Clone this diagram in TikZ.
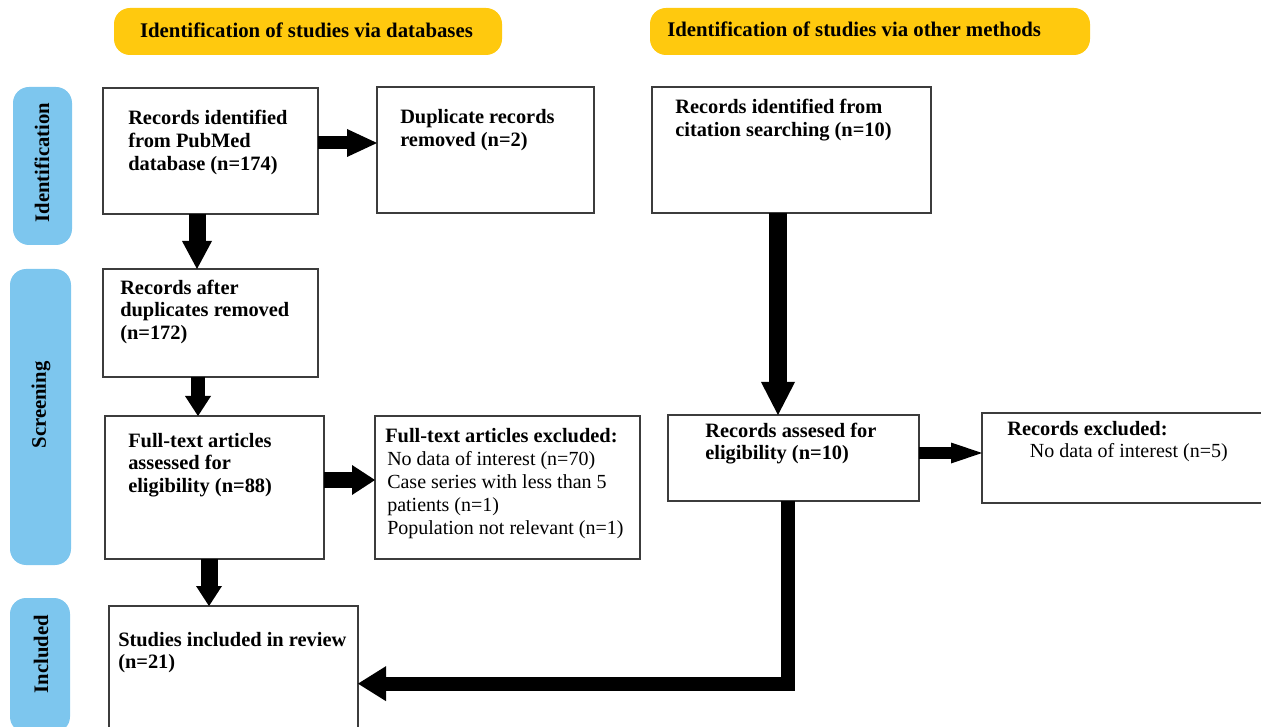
\documentclass[tikz,border=0pt]{standalone}
\usepackage{fontspec}
\setmainfont{Liberation Serif}
\usetikzlibrary{arrows.meta,calc,positioning}
\definecolor{bannergold}{RGB}{255,201,14}
\definecolor{sideblue}{RGB}{125,198,238}
\definecolor{boxline}{RGB}{60,60,60}
\tikzset{
  box/.style={draw=boxline, line width=1.1pt, fill=white, rectangle, anchor=north west, inner sep=0pt, outer sep=0pt},
  banner/.style={fill=bannergold, rectangle, rounded corners=12pt, anchor=north west, inner sep=0pt, outer sep=0pt},
  sidebar/.style={fill=sideblue, rectangle, rounded corners=12pt, anchor=north west, inner sep=0pt, outer sep=0pt},
  txt/.style={font=\fontsize{15.3}{17.1}\selectfont\bfseries, align=left, inner sep=0pt, anchor=base west},
  rtxt/.style={font=\fontsize{15}{17.1}\selectfont, align=left, inner sep=0pt, anchor=base west},
  btxt/.style={font=\fontsize{15.6}{18}\selectfont\bfseries, inner sep=0pt},
  stxt/.style={font=\fontsize{15.5}{18}\selectfont\bfseries, inner sep=0pt, rotate=90},
  blk/.style n args={3}{draw=black, line width=#1, line join=miter, line cap=butt,
    -{Triangle[width=#2, length=#3, line width=0pt]}},
}
\begin{document}
\begin{tikzpicture}[x=0.75pt, y=-0.75pt]
\useasboundingbox (0,0) rectangle (1261,727);
% banners
\node[banner, minimum width=291pt, minimum height=35.25pt] (ban1) at (114,8) {};
\node[banner, minimum width=330pt, minimum height=35.25pt] (ban2) at (650,8) {};
\node[btxt] (ban1t) at (306.5,30) {Identification of studies via databases};
\node[btxt, anchor=west] (ban2t) at (667,29) {Identification of studies via other methods};
% side bars
\node[sidebar, minimum width=44.25pt, minimum height=118.5pt] (sb1) at (13,87) {};
\node[sidebar, minimum width=45.75pt, minimum height=222pt] (sb2) at (10,269) {};
\node[sidebar, minimum width=45pt, minimum height=101pt] (sb3) at (10,598) {};
\node[stxt] (sb1t) at (42,162.5) {Identification};
\node[stxt] (sb2t) at (41,405) {Screening};
\node[stxt] (sb3t) at (41,654) {Included};
% boxes
\node[box, minimum width=161.25pt, minimum height=94.5pt] (A) at (103,88) {};
\node[box, minimum width=162.75pt, minimum height=94.5pt] (B) at (377,87) {};
\node[box, minimum width=209.25pt, minimum height=94.5pt] (C) at (652,87) {};
\node[box, minimum width=161.25pt, minimum height=81pt] (D) at (103,269) {};
\node[box, minimum width=164.25pt, minimum height=107.25pt] (E) at (105,416) {};
\node[box, minimum width=198.75pt, minimum height=107.25pt] (F) at (375,416) {};
\node[box, minimum width=188.25pt, minimum height=64.5pt] (G) at (668,415) {};
\node[box, minimum width=211.5pt, minimum height=67.5pt] (H) at (982,413) {};
\node[box, minimum width=186.75pt, minimum height=94pt] (I) at (109,606) {};
% texts (anchor = baseline of the last line)
\node[txt] (At) at ($(A.north west)+(25,82.6)$) {Records identified\\from PubMed\\database (n=174)};
\node[txt] (Bt) at ($(B.north west)+(23,59.8)$) {Duplicate records\\removed (n=2)};
\node[txt] (Ct) at ($(C.north west)+(23,49.8)$) {Records identified from\\citation searching (n=10)};
\node[txt] (Dt) at ($(D.north west)+(17,70.6)$) {Records after\\duplicates removed\\(n=172)};
\node[txt] (Et) at ($(E.north west)+(23,76.6)$) {Full-text articles\\assessed for\\eligibility (n=88)};
\node[rtxt] (Ft) at ($(F.north west)+(10,118)$) {\textbf{\fontsize{15.3}{17.1}\selectfont Full-text articles excluded:}\\
  \hspace*{1.5pt}No data of interest (n=70)\\
  \hspace*{1.5pt}Case series with less than 5\\
  \hspace*{1.5pt}patients (n=1)\\
  \hspace*{1.5pt}Population not relevant (n=1)};
\node[txt] (Gt) at ($(G.north west)+(37,44.8)$) {Records assesed for\\eligibility (n=10)};
\node[rtxt] (Ht) at ($(H.north west)+(25,44.8)$) {\textbf{\fontsize{15.3}{17.1}\selectfont Records excluded:}\\
  \hspace*{17pt}No data of interest (n=5)};
\node[txt] (It) at ($(I.north west)+(9,62.8)$) {Studies included in review\\(n=21)};
% arrows
\draw[blk={9.75pt}{21pt}{22.5pt}] ($(A.east)+(0,-8)$) -- ($(B.west)+(0,-7)$);
\draw[blk={12.75pt}{22.5pt}{21pt}] ($(A.south)+(-13.5,0)$) -- ($(D.north)+(-13.5,0)$);
\draw[blk={10.5pt}{19.5pt}{15pt}] ($(D.south)+(-12.5,0)$) -- ($(E.north)+(-16.5,0)$);
\draw[blk={12pt}{22.5pt}{17.25pt}] ($(E.east)+(0,-7.5)$) -- ($(F.west)+(0,-7.5)$);
\draw[blk={12.75pt}{19.5pt}{15pt}] ($(E.south)+(-5.5,0)$) -- ($(I.north)+(-24.5,0)$);
\draw[blk={13.5pt}{25.5pt}{24.75pt}] ($(C.south)+(-13.5,0)$) -- ($(G.north)+(-15.5,0)$);
\draw[blk={9pt}{15.75pt}{23.25pt}] ($(G.east)+(0,-5)$) -- ($(H.west)+(0,-5)$);
\draw[blk={10.5pt}{26.25pt}{21pt}] ($(G.south)+(-5.5,0)$) |- ($(I.east)+(0,15)$);
\end{tikzpicture}
\end{document}
